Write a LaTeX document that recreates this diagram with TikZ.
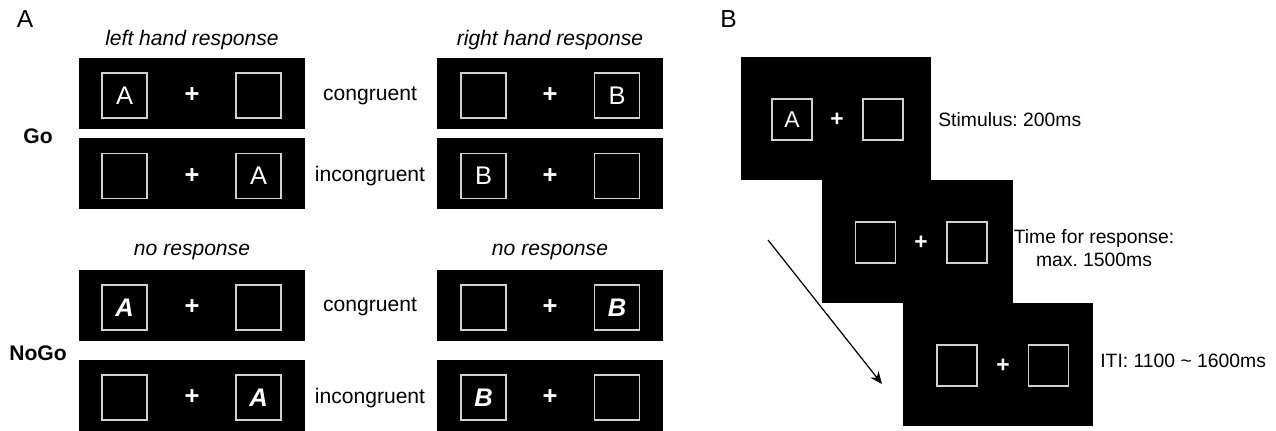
\documentclass[tikz,border=0pt]{standalone}
\usepackage{fontspec}
\setmainfont{Liberation Sans}
\usetikzlibrary{arrows.meta}
\frenchspacing

\begin{document}
\fontsize{12}{14.4}\selectfont
\begin{tikzpicture}[x=0.02cm, y=-0.02cm]
\tikzstyle{screen}=[rectangle, fill=black, minimum width=4.52cm, minimum height=1.42cm, inner sep=0]
\tikzstyle{trial}=[rectangle, fill=black, minimum width=3.82cm, minimum height=2.46cm, inner sep=0]
\tikzstyle{box}=[rectangle, draw=black!18, line width=0.8pt, minimum size=0.9cm, inner sep=0, text=white, font=\fontsize{14.5}{17}\selectfont]
\tikzstyle{sbox}=[box, minimum width=0.8cm, minimum height=0.82cm, font=\fontsize{13}{15}\selectfont]
\tikzstyle{fix}=[text=white, inner sep=0, font=\fontsize{14.5}{17}\selectfont\bfseries]
\tikzstyle{sfix}=[fix, font=\fontsize{13}{15}\selectfont\bfseries]
\tikzstyle{nogo}=[font=\fontsize{14.5}{17}\selectfont\bfseries\itshape]
\tikzstyle{note}=[font=\fontsize{11}{13}\selectfont]
\tikzstyle{panel}=[font=\fontsize{14}{17}\selectfont]

\useasboundingbox (0,0) rectangle (1276,431);

	%panel labels
	\node[panel] (lab_A) at (25,19) {A};
	\node[panel] (lab_B) at (728.5,19) {B};
	\node[font=\itshape] (head_l) at (192,40) {left hand response};
	\node[font=\itshape] (head_r) at (550,40) {right hand response};
	\node[font=\itshape] (head_nl) at (192,252) {no response};
	\node[font=\itshape] (head_nr) at (550,252) {no response};
	\node[font=\bfseries] (go) at (38,136) {Go};
	\node[font=\bfseries] (nogo) at (38,353) {NoGo};
	\node (cong_go) at (370,96) {congruent};
	\node (inc_go) at (370,176) {incongruent};
	\node (cong_nogo) at (370,307) {congruent};
	\node (inc_nogo) at (370,398) {incongruent};

	%screens
	\node[screen] (lgc) at (192,93.5) {};
	\node[screen] (lgi) at (192,173.5) {};
	\node[screen] (lnc) at (192,305.5) {};
	\node[screen] (lni) at (192,395.5) {};
	\node[screen] (rgc) at (550,93.5) {};
	\node[screen] (rgi) at (550,173.5) {};
	\node[screen] (rnc) at (550,305.5) {};
	\node[screen] (rni) at (550,395.5) {};

	%squares and fixation
	\node[box] (lgc_l) at (124.5,95.5) {A};
	\node[fix] (lgc_p) at (192,95.5) {+};
	\node[box] (lgc_r) at (258.5,95.5) {};
	\node[box] (lgi_l) at (124.5,176) {};
	\node[fix] (lgi_p) at (192,176) {+};
	\node[box] (lgi_r) at (258.5,176) {A};
	\node[box] (lnc_l) at (124.5,307.5) [nogo] {A};
	\node[fix] (lnc_p) at (192,307.5) {+};
	\node[box] (lnc_r) at (258.5,307.5) {};
	\node[box] (lni_l) at (124.5,397.5) {};
	\node[fix] (lni_p) at (192,397.5) {+};
	\node[box] (lni_r) at (258.5,397.5) [nogo] {A};
	\node[box] (rgc_l) at (483.5,95.5) {};
	\node[fix] (rgc_p) at (550,95.5) {+};
	\node[box] (rgc_r) at (617,95.5) {B};
	\node[box] (rgi_l) at (483.5,176) {B};
	\node[fix] (rgi_p) at (550,176) {+};
	\node[box] (rgi_r) at (617,176) {};
	\node[box] (rnc_l) at (483.5,307.5) {};
	\node[fix] (rnc_p) at (550,307.5) {+};
	\node[box] (rnc_r) at (617,307.5) [nogo] {B};
	\node[box] (rni_l) at (483.5,397.5) [nogo] {B};
	\node[fix] (rni_p) at (550,397.5) {+};
	\node[box] (rni_r) at (617,397.5) {};

	%trial sequence
	\node[trial] (stim) at (836,118.5) {};
	\node[trial] (resp) at (917.5,241.5) {};
	\node[trial] (iti) at (998,364.5) {};
	\node[sbox] (stim_l) at (792,119.5) {A};
	\node[sfix] (stim_p) at (837,119.5) {+};
	\node[sbox] (stim_r) at (883,119.5) {};
	\node[sbox] (resp_l) at (875.5,242.5) {};
	\node[sfix] (resp_p) at (921,242.5) {+};
	\node[sbox] (resp_r) at (967,242.5) {};
	\node[sbox] (iti_l) at (957,365.5) {};
	\node[sfix] (iti_p) at (1003,365.5) {+};
	\node[sbox] (iti_r) at (1048.5,365.5) {};
	\node[note, anchor=west, inner sep=0] (stim_t) at (938,120) {Stimulus: 200ms};
	\node[note, align=center] (resp_t) at (1094,248) {Time for response:\\max. 1500ms};
	\node[note, anchor=west, inner sep=0] (iti_t) at (1100,361) {ITI: 1100 \textasciitilde{} 1600ms};

	%time arrow
	\coordinate (t_start) at (768,240);
	\coordinate (t_end) at (882,384);
	\draw[-{Stealth[length=7pt, width=6pt]}, line width=0.7pt] (t_start) -- (t_end);

\end{tikzpicture}
\end{document}
